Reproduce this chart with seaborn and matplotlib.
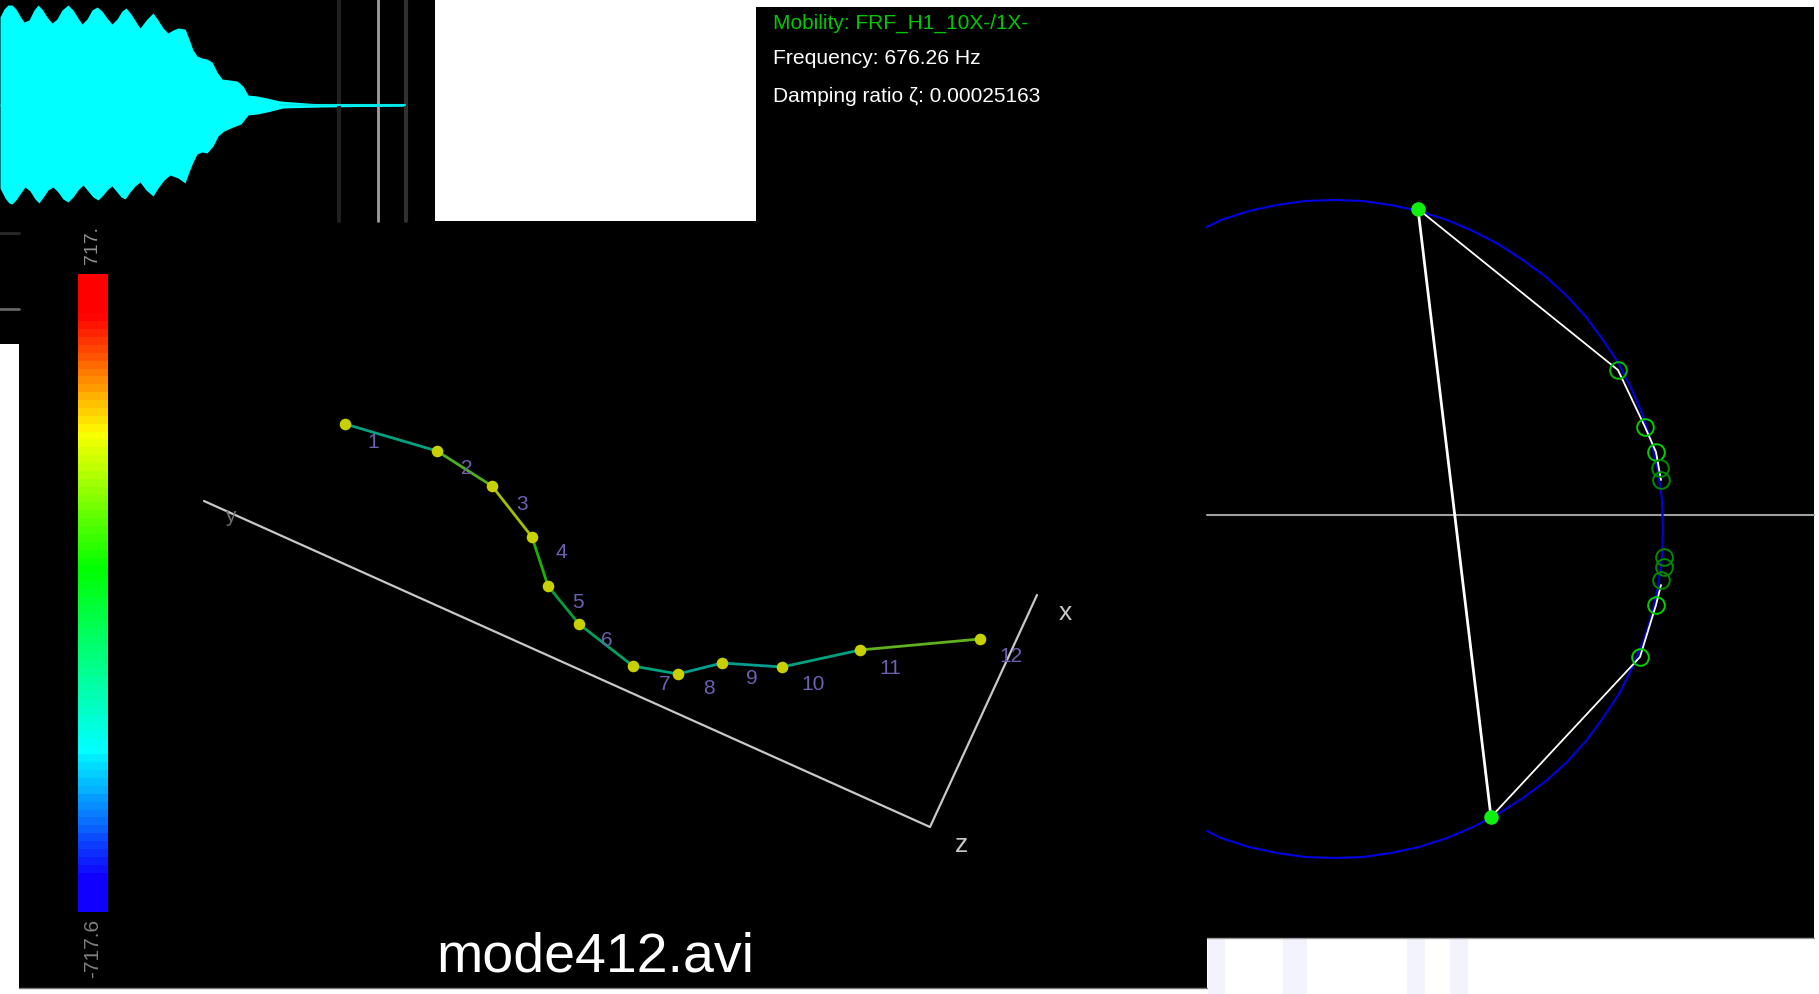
import seaborn as sns
import matplotlib.pyplot as plt
from matplotlib.colors import LinearSegmentedColormap
from matplotlib.patches import Rectangle

# everything in pixels
wave_up_x = [0, 4, 8, 12, 16, 20, 24, 29, 34, 38, 42, 47, 52, 57, 62, 68, 73, 78, 82, 87, 92, 97, 102, 107, 112,
             117, 122, 126, 131, 136, 140, 147, 153, 158, 163, 168, 173, 178, 185, 189, 193, 197, 202, 207, 212,
             217, 222, 230, 237, 243, 248, 257, 267, 280, 320, 405]
wave_up_y = [17, 9, 5, 5, 9, 16, 22, 20, 10, 5, 9, 17, 23, 19, 10, 5, 10, 18, 24, 19, 10, 7, 11, 18, 24,
             19, 11, 8, 14, 22, 28, 19, 13, 20, 28, 33, 30, 28, 29, 39, 50, 56, 58, 59, 62,
             72, 79, 80, 81, 86, 95, 96, 98, 101, 104, 104]
wave_lo_x = [0, 5, 9, 12, 16, 20, 25, 30, 35, 39, 44, 48, 53, 58, 63, 68, 73, 78, 83, 88, 93, 98, 103, 108, 112,
             117, 121, 125, 130, 135, 140, 146, 153, 158, 164, 170, 178, 185, 189, 193, 197, 202, 207, 213, 218,
             224, 233, 241, 248, 257, 267, 283, 320, 405]
wave_lo_y = [188, 198, 203, 204, 200, 194, 187, 191, 199, 203, 196, 190, 187, 192, 199, 202, 197, 190, 185, 191, 197,
             200, 195, 189, 186, 192, 197, 199, 192, 186, 182, 190, 196, 188, 180, 175, 178, 183, 172, 162, 154, 152,
             153, 146, 136, 131, 127, 124, 115, 114, 112, 108, 107, 106]

shape_x = [345, 437, 492, 532, 548, 579, 633, 678, 722, 782, 860, 980]
shape_y = [424, 451, 486, 537, 586, 624, 666, 674, 663, 667, 650, 639]
seg_colors = ["#00a080", "#50b020", "#a0c000", "#20b000", "#00a040", "#00a060",
              "#00a080", "#00a090", "#00a090", "#00a080", "#60b020"]
node_labels = ["1", "2", "3", "4", "5", "6", "7", "8", "9", "10", "11", "12"]
label_x = [373, 467, 522, 561, 578, 607, 665, 709, 752, 813, 890, 1011]
label_y = [443, 468, 504, 553, 602, 641, 684, 689, 679, 685, 668, 656]

axis_x = [204, 930, 1037]
axis_y = [501, 827, 595]

levels = [717, 699, 681, 663, 645, 627, 609, 592, 574, 556, 538, 520, 502, 484, 466, 448, 430, 412, 394, 376, 358,
          341, 323, 305, 287, 269, 251, 233, 215, 197, 179, 161, 143, 125, 108, 90, 72, 54, 36, 18, 0,
          -18, -36, -54, -72, -90, -108, -125, -143, -161, -179, -197, -215, -233, -251, -269, -287, -305, -323, -341,
          -358, -376, -394, -412, -430, -448, -466, -484, -502, -520, -538, -556, -574, -592, -609, -627, -645, -663,
          -681, -699, -717.6]

arc_x = [1207, 1221, 1249, 1277, 1305, 1334, 1363, 1391, 1419, 1447, 1473, 1498, 1523, 1546, 1567, 1586, 1603, 1619,
         1632, 1643, 1652, 1658, 1662, 1663,
         1662, 1658, 1652, 1643, 1632, 1619, 1603, 1586, 1567, 1546, 1523, 1498, 1473, 1447, 1419, 1391, 1363, 1334,
         1305, 1277, 1249, 1221, 1207]
arc_y = [227, 220, 211, 205, 201, 200, 201, 205, 211, 220, 231, 244, 260, 277, 296, 317, 340, 364,
         390, 416, 444, 472, 500, 529,
         558, 586, 614, 642, 668, 694, 718, 741, 762, 781, 798, 814, 827, 838, 847, 853, 857, 858,
         857, 853, 847, 838, 831]

top_pt = (1418, 209)
bot_pt = (1491, 817)
chord_x = [1418, 1618, 1645, 1656, 1661]
chord_y = [209, 370, 427, 452, 480]
chord2_x = [1491, 1640, 1656, 1661]
chord2_y = [817, 657, 605, 585]
open_x = [1618, 1645, 1656, 1660, 1661, 1664, 1664, 1661, 1656, 1640]
open_y = [370, 427, 452, 468, 480, 557, 567, 580, 605, 657]
open_colors = ["#00c000", "#00d000", "#00d000", "#008a00", "#008a00", "#008a00", "#008a00", "#008a00", "#00d000", "#00d000"]

sns.set_theme(style="white")
plt.rcParams['font.family'] = ['Liberation Sans', 'DejaVu Sans']

fig = plt.figure(figsize=(18.19, 9.94), dpi=100, facecolor="white")
ax = fig.add_axes([0, 0, 1, 1])
ax.set_xlim(0, 1819)
ax.set_ylim(994, 0)
ax.axis("off")

# faint watermark under the panels
for bx, bw in [(1208, 17), (1283, 24), (1407, 18), (1450, 18)]:
    ax.add_patch(Rectangle((bx, 938), bw, 56, color="#f3f3fc", lw=0))

# black panels
for px, py, pw, ph in [(0, 0, 435, 221), (0, 221, 30, 123), (19, 221, 1188, 767), (756, 7, 1058, 931)]:
    ax.add_patch(Rectangle((px, py), pw, ph, color="black", lw=0))
ax.plot([19, 1207], [988, 988], color="#777777", lw=1)
ax.plot([1207, 1814], [938, 938], color="#999999", lw=1)

# waveform, the two halves overlap a little so no seam shows
ax.fill_between(wave_up_x, wave_up_y, 106, color="#00ffff", lw=0)
ax.fill_between(wave_lo_x, wave_lo_y, 104, color="#00ffff", lw=0)
sns.lineplot(x=[280, 405], y=[105, 105], color="#00e8e8", lw=1.5, ax=ax)
for vx, vc, vw in [(339, "#202020", 3), (378, "#a0a0a0", 2), (406, "#303030", 3)]:
    sns.lineplot(x=[vx, vx], y=[0, 221], color=vc, lw=vw, ax=ax, estimator=None, sort=False, errorbar=None, zorder=1.5)
for ty, tc in [(233, "#2a2a2a"), (309, "#666666")]:
    sns.lineplot(x=[0, 19], y=[ty, ty], color=tc, lw=2, ax=ax)

# mode shape
sns.lineplot(x=axis_x, y=axis_y, color="#c8c8c8", lw=1.6, ax=ax, estimator=None, sort=False)
for i in range(len(shape_x) - 1):
    sns.lineplot(x=shape_x[i:i + 2], y=shape_y[i:i + 2], color=seg_colors[i], lw=2, ax=ax, estimator=None, sort=False)
sns.scatterplot(x=shape_x, y=shape_y, color="#c8d000", s=70, linewidth=0, ax=ax, zorder=5)
for lx, ly, lb in zip(label_x, label_y, node_labels):
    ax.text(lx, ly, lb, color="#6a62b0", fontsize=15, ha="center", va="center")
ax.text(230, 517, "y", color="#707070", fontsize=15, ha="center", va="center")
ax.text(1065, 613, "x", color="#c8c8c8", fontsize=19, ha="center", va="center")
ax.text(961, 845, "z", color="#c8c8c8", fontsize=19, ha="center", va="center")
ax.text(92, 245, "717.", color="#909090", fontsize=14, rotation=90, ha="center", va="center")
ax.text(93, 948, "-717.6", color="#808080", fontsize=15, rotation=90, ha="center", va="center")
ax.text(595, 958, "mode412.avi", color="white", fontsize=40, ha="center", va="center")

# nyquist circle
sns.lineplot(x=[1207, 1814], y=[515, 515], color="#a0a0a0", lw=1.5, ax=ax)
sns.lineplot(x=arc_x, y=arc_y, color="#0000e0", lw=1.5, ax=ax, estimator=None, sort=False)
sns.lineplot(x=[top_pt[0], bot_pt[0]], y=[top_pt[1], bot_pt[1]], color="white", lw=2, ax=ax, estimator=None, sort=False)
sns.lineplot(x=chord_x, y=chord_y, color="white", lw=1.3, ax=ax, estimator=None, sort=False)
sns.lineplot(x=chord2_x, y=chord2_y, color="white", lw=1.3, ax=ax, estimator=None, sort=False)
for ox, oy, oc in zip(open_x, open_y, open_colors):
    ax.plot(ox, oy, "o", ms=12, mfc="none", mec=oc, mew=1.4, zorder=6)
sns.scatterplot(x=[top_pt[0], bot_pt[0]], y=[top_pt[1], bot_pt[1]], color="#10f010", s=110, linewidth=0, ax=ax, zorder=7)

ax.text(773, 23, "Mobility: FRF_H1_10X-/1X-", color="#00c800", fontsize=15, va="center")
ax.text(773, 59, "Frequency: 676.26 Hz", color="white", fontsize=15.2, va="center")
ax.text(773, 96, "Damping ratio \u03b6: 0.00025163", color="white", fontsize=15, va="center")

# colour bar
jet_like = LinearSegmentedColormap.from_list("bar", [
    (0.0, "#ff0000"), (0.06, "#ff0000"), (0.245, "#ffff00"), (0.46, "#00ff00"),
    (0.75, "#00ffff"), (0.95, "#1000ff"), (1.0, "#1000ff")])
cax = fig.add_axes([78 / 1819, 1 - 912 / 994, 30 / 1819, 638 / 994])
sns.heatmap([[v] for v in levels], cmap=jet_like.reversed(), vmin=-717.6, vmax=717, cbar=False,
            xticklabels=False, yticklabels=False, ax=cax)

plt.savefig("out.png", dpi=100, facecolor="white")
